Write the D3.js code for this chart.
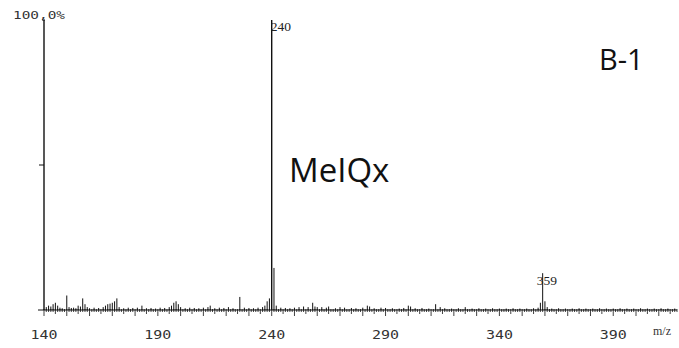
<!DOCTYPE html>
<html><head><meta charset="utf-8">
<script src="https://cdn.jsdelivr.net/npm/d3@7"></script>
<style>html,body{margin:0;padding:0;background:#fff}svg{display:block}</style>
</head><body>
<svg id="c" width="679" height="348"></svg>
<script>
// m/z values and relative intensities (%)
const mz = [141,142,143,144,145,146,147,148,150,151,152,153,154,155,156,157,158,159,160,162,164,166,167,168,169,170,171,172,173,175,177,179,181,183,185,187,189,191,193,195,196,197,198,199,200,202,204,206,208,210,212,213,215,217,219,221,223,226,228,230,232,234,236,237,238,239,240,241,242,244,246,248,250,252,254,256,258,259,260,262,264,265,268,270,272,275,277,280,282,283,285,288,290,293,296,298,300,301,303,306,309,312,314,316,319,322,325,328,331,334,337,340,343,346,349,352,355,357,358,359,360,361,363,366,369,372,375,378,381,384,387,390,393,396,399,402,405,408,411,414,417];
const intensity = [1.0,1.5,1.2,2.0,2.5,1.5,0.8,0.6,5.0,1.0,0.7,0.8,0.6,1.5,1.2,4.0,2.0,1.0,0.6,0.8,0.7,1.0,1.5,2.0,2.2,2.5,3.0,4.0,1.0,0.6,0.8,0.7,0.8,1.5,0.6,0.7,0.5,0.8,0.7,1.0,1.5,2.5,3.0,2.0,1.0,0.6,0.8,0.7,0.6,0.8,1.0,1.5,0.6,0.8,0.7,1.0,0.6,4.5,0.8,0.7,0.6,0.8,1.0,1.5,3.0,4.0,100,14.5,1.5,0.8,0.7,0.6,0.8,1.0,1.2,1.0,2.5,1.2,1.0,1.0,0.8,1.2,0.6,1.0,0.8,0.7,0.6,0.8,1.5,1.2,0.6,0.8,0.7,0.6,0.5,0.7,1.5,1.2,0.6,0.7,0.5,2.0,1.0,0.6,0.5,0.6,1.0,0.5,0.6,0.5,0.6,0.5,0.5,0.6,0.5,0.5,0.6,0.8,2.5,12.7,3.0,1.0,0.5,0.6,0.5,0.5,0.6,0.5,0.5,0.6,0.5,0.5,0.6,0.5,0.5,0.6,0.5,0.5,0.6,0.5,0.5];
const xTicks = [140,190,240,290,340,390];
const peakLabels = [{mz:240,label:"240"},{mz:359,label:"359"}];

const svg = d3.select("#c");
const x = d3.scaleLinear().domain([140,418]).range([44,677]);
const y = d3.scaleLinear().domain([0,100]).range([310,20]);
const ink = "#111";

// peaks
svg.append("g").selectAll("line").data(mz).join("line")
  .attr("x1", d => x(d)).attr("x2", d => x(d))
  .attr("y1", y(0)).attr("y2", (d,i) => y(intensity[i]))
  .attr("stroke", ink).attr("stroke-width", (d,i)=> intensity[i] > 50 ? 1.4 : 1);

// x axis baseline and minor ticks
svg.append("line").attr("x1",38).attr("x2",677).attr("y1",y(0)).attr("y2",y(0))
  .attr("stroke",ink).attr("stroke-width",1);
const minor = d3.range(140, 419, 1);
svg.append("g").selectAll("line").data(minor).join("line")
  .attr("x1", d=>x(d)).attr("x2", d=>x(d))
  .attr("y1", y(0)-1)
  .attr("y2", d => y(0) + (d%10===0 ? 6 : d%5===0 ? 4 : 2))
  .attr("stroke", ink).attr("stroke-width", 0.8);

// x tick labels
svg.append("g").selectAll("text").data(xTicks).join("text")
  .attr("x", d=>x(d)).attr("y", 339)
  .attr("text-anchor","middle")
  .attr("font-family","DejaVu Sans Mono").attr("font-size",12.5)
  .attr("textLength",27).attr("lengthAdjust","spacingAndGlyphs")
  .attr("fill","#333").text(d=>d);

svg.append("text").attr("x",653).attr("y",335)
  .attr("font-family","Liberation Serif").attr("font-size",12).attr("fill","#333").text("m/z");

// y axis
svg.append("line").attr("x1",x(140)).attr("x2",x(140)).attr("y1",y(100)).attr("y2",y(0))
  .attr("stroke",ink).attr("stroke-width",1.4);
svg.append("line").attr("x1",x(140)-5).attr("x2",x(140)).attr("y1",y(50)).attr("y2",y(50))
  .attr("stroke",ink).attr("stroke-width",1);
svg.append("line").attr("x1",x(140)-2).attr("x2",x(140)+1).attr("y1",y(100)).attr("y2",y(100))
  .attr("stroke",ink).attr("stroke-width",1);
svg.append("text").attr("x",13).attr("y",19)
  .attr("font-family","DejaVu Sans Mono").attr("font-size",10)
  .attr("textLength",52).attr("lengthAdjust","spacingAndGlyphs")
  .attr("fill","#333").text("100,0%");

// peak labels
svg.append("g").selectAll("text").data(peakLabels).join("text")
  .attr("x", d => d.mz===240 ? x(d.mz)-1 : x(d.mz)-6)
  .attr("y", d => d.mz===240 ? 31 : 285)
  .attr("font-family","Liberation Serif").attr("font-size",13.5).attr("fill","#222")
  .text(d=>d.label);

// annotations
svg.append("text").attr("x",289).attr("y",182)
  .attr("font-family","Open Sans").attr("font-size",33).attr("fill","#111").text("MeIQx");
svg.append("text").attr("x",599).attr("y",70)
  .attr("font-family","Open Sans").attr("font-size",29).attr("fill","#111").text("B-1");
</script>
</body></html>
